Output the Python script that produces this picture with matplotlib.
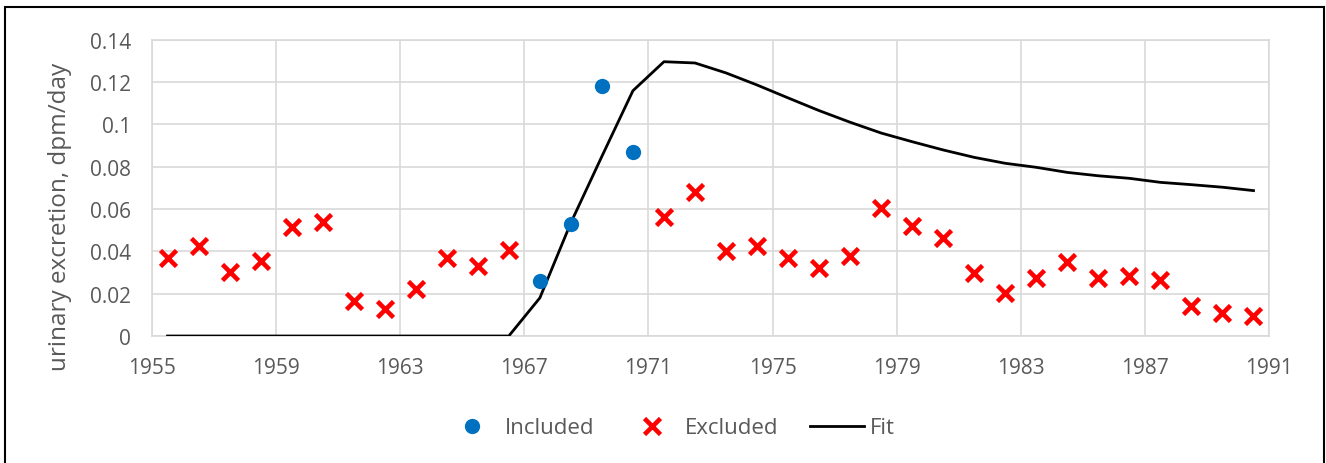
import matplotlib
matplotlib.use('Agg')
import matplotlib.pyplot as plt
from matplotlib.patches import Rectangle
import numpy as np

plt.rcParams['font.family'] = ['Open Sans', 'DejaVu Sans']

# Data (mid-year positions)
years = np.arange(1955.5, 1991.0, 1.0)

included_years = [1967.5, 1968.5, 1969.5, 1970.5]
included_vals = [0.0261, 0.0531, 0.1183, 0.0871]

excluded_years = [1955.5, 1956.5, 1957.5, 1958.5, 1959.5, 1960.5, 1961.5, 1962.5,
                  1963.5, 1964.5, 1965.5, 1966.5,
                  1971.5, 1972.5, 1973.5, 1974.5, 1975.5, 1976.5, 1977.5, 1978.5,
                  1979.5, 1980.5, 1981.5, 1982.5, 1983.5, 1984.5, 1985.5, 1986.5,
                  1987.5, 1988.5, 1989.5, 1990.5]
excluded_vals = [0.0369, 0.0427, 0.0304, 0.0356, 0.0515, 0.0537, 0.0164, 0.0128,
                 0.0222, 0.0369, 0.0332, 0.0408,
                 0.0561, 0.0682, 0.0400, 0.0427, 0.0369, 0.0320, 0.0377, 0.0605,
                 0.0521, 0.0462, 0.0298, 0.0203, 0.0273, 0.0351, 0.0273, 0.0285,
                 0.0265, 0.0140, 0.0107, 0.0096]

fit_vals = [0, 0, 0, 0, 0, 0, 0, 0, 0, 0, 0, 0,
            0.0180, 0.0535, 0.0849, 0.1159, 0.1296, 0.1290, 0.1243, 0.1186,
            0.1125, 0.1065, 0.1010, 0.0959, 0.0918, 0.0879, 0.0844, 0.0816,
            0.0797, 0.0773, 0.0757, 0.0745, 0.0726, 0.0715, 0.0703, 0.0687]

xticks = np.arange(1955, 1992, 4)
yticks = [0, 0.02, 0.04, 0.06, 0.08, 0.1, 0.12, 0.14]
ytick_labels = ['0', '0.02', '0.04', '0.06', '0.08', '0.1', '0.12', '0.14']

fig = plt.figure(figsize=(13.26, 4.64), dpi=100)
ax = fig.add_axes([152 / 1326, 1 - 337 / 464, (1269 - 152) / 1326, (337 - 40.7) / 464])

grid_c = '#d9d9d9'
text_c = '#595959'

ax.plot(years, fit_vals, color='black', lw=2, label='Fit', zorder=3)
ax.plot(included_years, included_vals, 'o', color='#0070c0', ms=11, mew=0,
        label='Included', zorder=4)
ax.plot(excluded_years, excluded_vals, 'x', color='#ff0000', ms=12, mew=3.3,
        label='Excluded', zorder=4)

ax.set_xlim(1955, 1991)
ax.set_ylim(0, 0.14)
ax.set_xticks(xticks)
ax.set_yticks(yticks)
ax.set_yticklabels(ytick_labels)
ax.grid(True, color=grid_c, lw=1.2)
ax.set_axisbelow(True)
for s in ax.spines.values():
    s.set_color(grid_c)
    s.set_linewidth(1.2)
ax.tick_params(length=0, colors=text_c, labelsize=15)
ax.tick_params(axis='y', pad=15)
ax.tick_params(axis='x', pad=15)
ax.set_ylabel('urinary excretion, dpm/day', color=text_c, fontsize=17.5)
ax.yaxis.set_label_coords(-0.0716, 0.405)

h, l = ax.get_legend_handles_labels()
order = [l.index('Included'), l.index('Excluded'), l.index('Fit')]
fig.legend([h[i] for i in order], [l[i] for i in order], loc='center',
           bbox_to_anchor=(0.505, 1 - 429 / 464), ncol=3, frameon=False,
           fontsize=16, labelcolor=text_c, handlelength=2.45, handletextpad=0.25,
           columnspacing=1.4)

# outer chart border
fig.patches.append(Rectangle((5 / 1326, -0.02), 1319 / 1326, 1.02 - 8 / 464,
                             transform=fig.transFigure, fill=False,
                             edgecolor='black', lw=1.5))

fig.savefig('out.png', dpi=100)
